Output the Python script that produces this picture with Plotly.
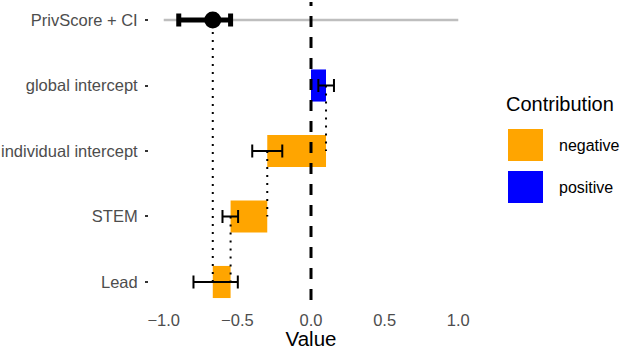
import plotly.graph_objects as go

# ---- data ----
terms = ["global intercept", "individual intercept", "STEM", "Lead"]
effects = [0.102, -0.399, -0.249, -0.121]
err_lo = [0.050, -0.399, -0.601, -0.798]
err_hi = [0.156, -0.195, -0.495, -0.497]
score_label = "PrivScore + CI"
score_ci = [-0.898, -0.546]
score_span = [-1.0, 1.0]
ref_value = 0.0
row_order = ["Lead", "STEM", "individual intercept", "global intercept", "PrivScore + CI"]
x_tickvals = [-1.0, -0.5, 0.0, 0.5, 1.0]
x_ticktext = ["\u22121.0", "\u22120.5", "0.0", "0.5", "1.0"]
legend_names = ["negative", "positive"]
colors = {"negative": "#FFA500", "positive": "#0000FF"}

# ---- derived waterfall geometry ----
starts, ends = [], []
run = 0.0
for e in effects:
    starts.append(run)
    run += e
    ends.append(run)
score = ends[-1]
signs = ["positive" if e > 0 else "negative" for e in effects]

FONT = "Liberation Sans, Arial, Helvetica, sans-serif"
fig = go.Figure()

# grey full-range line behind the score
fig.add_trace(go.Scatter(x=score_span, y=[score_label, score_label], mode="lines",
                         line=dict(color="#BEBEBE", width=2.4), hoverinfo="skip"))

# dotted connectors
next_rows = terms[1:] + [score_label]
for t, nr, en in zip(terms, next_rows, ends):
    fig.add_trace(go.Scatter(x=[en, en], y=[t, nr], mode="lines",
                             line=dict(color="black", width=2, dash="2px,6px"),
                             hoverinfo="skip"))

# waterfall bars
fig.add_trace(go.Bar(orientation="h", y=terms, x=effects, base=starts, width=0.49,
                     marker=dict(color=[colors[s] for s in signs], line=dict(width=0))))

# error bars at the bar ends
fig.add_trace(go.Scatter(x=ends, y=terms, mode="markers",
                         marker=dict(size=1, color="rgba(0,0,0,0)"),
                         error_x=dict(type="data", symmetric=False,
                                      array=[h - e for h, e in zip(err_hi, ends)],
                                      arrayminus=[e - l for l, e in zip(err_lo, ends)],
                                      color="black", thickness=2, width=6.5)))

# final score with CI
fig.add_trace(go.Scatter(x=[score], y=[score_label], mode="markers",
                         marker=dict(size=17, color="black"),
                         error_x=dict(type="data", symmetric=False,
                                      array=[score_ci[1] - score],
                                      arrayminus=[score - score_ci[0]],
                                      color="black", thickness=5, width=6.5)))

# dashed reference line
fig.add_shape(type="line", x0=ref_value, x1=ref_value, xref="x", yref="paper", y0=0, y1=1,
              line=dict(color="black", width=3, dash="11px,10px"), layer="above")

# ---- layout geometry ----
W, H = 622, 350
L, R, T, B = 149, 149, 2, 50
pw, ph = W - L - R, H - T - B
def px(x):
    return (x - L) / pw
def py(y):
    return (H - B - y) / ph

# ---- manual legend (large keys like the reference) ----
fig.add_annotation(text="Contribution", x=px(504), y=py(104), xref="paper", yref="paper",
                   xanchor="left", yanchor="middle", showarrow=False,
                   font=dict(family=FONT, size=20, color="black"))
for i, name in enumerate(legend_names):
    top = 129 + i * 42
    fig.add_shape(type="rect", xref="paper", yref="paper",
                  x0=px(508), x1=px(543), y0=py(top + 32), y1=py(top),
                  fillcolor=colors[name], line=dict(width=0))
    fig.add_annotation(text=name, x=px(557), y=py(top + 16), xref="paper", yref="paper",
                       xanchor="left", yanchor="middle", showarrow=False,
                       font=dict(family=FONT, size=16, color="black"))

fig.update_layout(
    width=W, height=H, margin=dict(l=L, r=R, t=T, b=B, autoexpand=False),
    template="none", plot_bgcolor="white", paper_bgcolor="white",
    showlegend=False, barmode="overlay",
    font=dict(family=FONT, size=16, color="#4D4D4D"),
    xaxis=dict(range=[-1.1, 1.1], tickvals=x_tickvals, ticktext=x_ticktext,
               showgrid=False, zeroline=False, showline=False, ticks="", automargin=False,
               ticklabelstandoff=8,
               tickfont=dict(size=16.5, color="#4D4D4D"),
               title=dict(text="Value", font=dict(size=20.5, color="black"), standoff=4)),
    yaxis=dict(type="category", categoryorder="array", categoryarray=row_order,
               range=[-0.275, 4.275], showgrid=False, zeroline=False, showline=False,
               automargin=False, ticklabelstandoff=4,
               ticks="outside", ticklen=3, tickwidth=1.5, tickcolor="#333333",
               tickfont=dict(size=16.5, color="#4D4D4D")),
)

# remove the default 8px page margin so the 622x350 figure fills the window exactly
fig.write_html("out.html", config={"displayModeBar": False},
               post_script="document.body.style.margin='0px';")
